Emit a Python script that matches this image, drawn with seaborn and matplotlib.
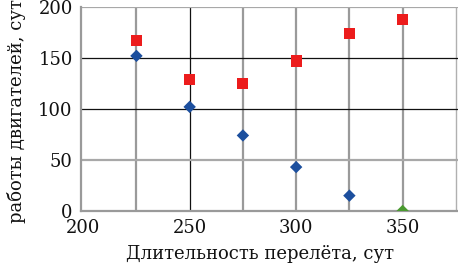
import numpy as np
import pandas as pd
import seaborn as sns
import matplotlib.pyplot as plt

# data
days_red = [225, 250, 275, 300, 325, 350]
vals_red = [167, 129, 125, 147, 174, 188]
days_blue = [225, 250, 275, 300, 325]
vals_blue = [152, 102, 74, 43, 15]
days_green = [350]
vals_green = [0]

df = pd.concat([
    pd.DataFrame({'x': days_red, 'y': vals_red, 's': 'red'}),
    pd.DataFrame({'x': days_blue, 'y': vals_blue, 's': 'blue'}),
    pd.DataFrame({'x': days_green, 'y': vals_green, 's': 'green'}),
])

sns.set_style('white')
plt.rcParams['font.family'] = ['DejaVu Serif']
fs = 13

fig = plt.figure(figsize=(4.58, 2.66), dpi=100)
ax = fig.add_axes([0.177, 0.207, 0.823, 0.767])

ax.set_xlim(199, 376)
ax.set_ylim(0, 200)

# grid lines
for x in [225, 275, 300, 325, 350]:
    ax.axvline(x, color='#9a9a9a', lw=1.6, zorder=1)
ax.axvline(375, color='#b0b0b0', lw=1.0, zorder=1)
ax.axvline(250, color='#111111', lw=0.9, zorder=1)
for y in [50, 200]:
    ax.axhline(y, color='#a8a8a8', lw=1.6, zorder=1)
for y in [100, 150]:
    ax.axhline(y, color='#111111', lw=0.9, zorder=1)

sns.scatterplot(data=df, x='x', y='y', hue='s', style='s',
                palette={'red': '#ec1c1c', 'blue': '#1c4f9e', 'green': '#4a9a30'},
                markers={'red': 's', 'blue': 'D', 'green': 'D'},
                s=60, linewidth=0, legend=False, ax=ax, zorder=3)
# smaller diamonds
ax.collections[-1].set_sizes([64 if s == 'red' else 40 for s in df['s']])

for sp in ['top', 'right']:
    ax.spines[sp].set_visible(False)
for sp in ['left', 'bottom']:
    ax.spines[sp].set_color('#9a9a9a')
    ax.spines[sp].set_linewidth(1.6)

ax.set_xticks([200, 250, 300, 350])
ax.set_yticks([0, 50, 100, 150, 200])
ax.tick_params(axis='both', length=0, labelsize=fs, colors='#111111')
ax.tick_params(axis='x', pad=6)
ax.tick_params(axis='y', pad=6)
ax.set_xlabel('Длительность перелёта, сут', fontsize=fs, color='#111111')
ax.xaxis.set_label_coords(0.475, -0.165)
ax.set_ylabel('')
fig.text(0.035, 0.16, 'работы двигателей, сут', rotation=90,
         ha='center', va='bottom', fontsize=fs, color='#111111')

fig.savefig('out.png', dpi=100)
